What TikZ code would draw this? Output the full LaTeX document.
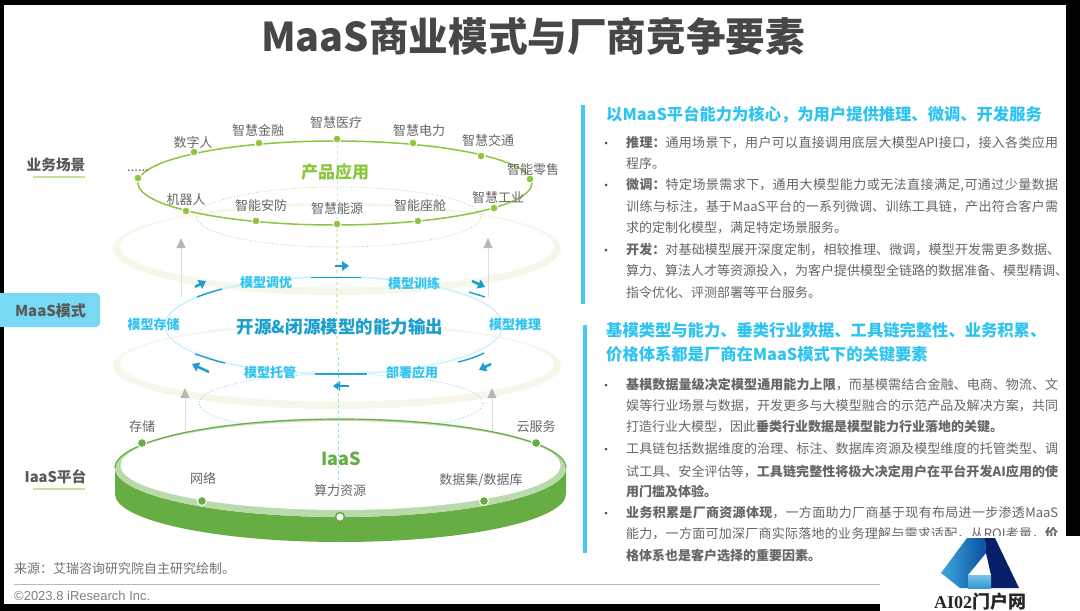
\documentclass[tikz,border=0pt]{standalone}
\usepackage{fontspec}
\setmainfont{Noto Sans CJK SC}
\newfontfamily\lib{Liberation Sans}
\newfontfamily\libs{Liberation Serif}[BoldFont={Liberation Serif Bold}]
\usetikzlibrary{arrows.meta}
\definecolor{leaf}{HTML}{8CC63F}
\definecolor{grass}{HTML}{66AD44}
\definecolor{sky}{HTML}{2FC4F0}
\definecolor{deep}{HTML}{1A9FD0}
\definecolor{body}{HTML}{666666}
\definecolor{palegreen}{HTML}{F5F8E8}
\definecolor{logoL}{HTML}{3FA9E0}
\definecolor{logoM}{HTML}{0A4F9E}
\definecolor{logoD}{HTML}{06206A}
\tikzset{
  x=1pt,y=-1pt,
  lab/.style={font=\fontsize{13}{13}\selectfont,text=body,inner sep=0pt},
  blab/.style={font=\fontsize{13}{13}\selectfont\bfseries,text=sky,inner sep=0pt},
  side/.style={font=\fontsize{14.7}{15}\selectfont\bfseries,text=black!65,inner sep=0pt},
  bodyline/.style={anchor=west,font=\fontsize{13}{13}\selectfont,text=body,inner sep=0pt},
  headline/.style={anchor=west,font=\fontsize{16.3}{16.3}\selectfont\bfseries,text=sky,inner sep=0pt},
  bul/.style={circle,fill=black!70,inner sep=0pt,minimum size=3pt},
  gdot/.style={circle,fill=leaf,draw=white,line width=1pt,inner sep=0pt,minimum size=8pt},
  idot/.style={circle,fill=grass,draw=white,line width=1pt,inner sep=0pt,minimum size=9pt},
  seg/.style={draw=deep,line width=1.4pt},
  flow/.style={draw=deep,line width=2.5pt,-{Triangle[length=7pt,width=9.5pt]}},
  up/.style={draw=black!13,line width=1pt,-{Triangle[length=10pt,width=9pt,color=black!28]}},
  rule/.style={draw=leaf!50,line width=1.2pt},
}
\newcommand\jl[3]{\node[bodyline] at (626,#1) {\parbox{#2pt}{\XeTeXlinebreaklocale "zh"\XeTeXlinebreakskip=0pt plus 1pt minus .2pt\relax\parfillskip=0pt\relax #3\par}};}
\begin{document}
\begin{tikzpicture}
\useasboundingbox (0,0) rectangle (1080,611);
\fill[white] (0,0) rectangle (1080,611);
% title
\node[inner sep=0pt,font=\fontsize{39.6}{39.6}\selectfont\bfseries,text=black!72] (title) at (533,36) {MaaS商业模式与厂商竞争要素};
% pale rings
\fill[palegreen] (337,249) ellipse (224 and 46);
\fill[white] (337,246.5) ellipse (217 and 41);
\fill[palegreen] (337,366) ellipse (224 and 43);
\fill[white] (337,363.5) ellipse (217 and 38);
% centre line
\draw[sky!30,dashed,line width=1pt] (337,145) -- (337,228);
\draw[leaf!30,dashed,line width=1.5pt] (337,228) -- (337,355);
% top ring
\draw[leaf,line width=1.5pt] (335,183) ellipse (197 and 42);
\draw[leaf!70,dotted,line width=.8pt] (338.5,217) ellipse (142 and 30);
% grey arrows
\coordinate (ua1) at (181,297); \coordinate (ua2) at (181,238);
\coordinate (ub1) at (488,297); \coordinate (ub2) at (488,238);
\coordinate (la1) at (185,443); \coordinate (la2) at (185,388);
\coordinate (lb1) at (492,443); \coordinate (lb2) at (492,388);
\draw[up] (ua1)--(ua2); \draw[up] (ub1)--(ub2); \draw[up] (la1)--(la2); \draw[up] (lb1)--(lb2);
% MaaS ring
\draw[sky!25,line width=1.3pt] (334,325.5) ellipse (169 and 48.5);
\draw[sky!30,dotted,line width=.7pt] (334,324) ellipse (166 and 48);
\draw[seg] (197,297) .. controls (205,294) and (214,291) .. (222,289);
\draw[seg] (311,277.5) -- (361,277.5);
\draw[seg] (469,292) -- (485,297);
\draw[seg] (195,354) .. controls (205,357) and (215,361) .. (225,363);
\draw[seg] (458,362) .. controls (467,360) and (476,357) .. (484,353);
\draw[seg] (315,374) -- (367,374);
\draw[flow] (335,266) -- (349,266);
\draw[flow] (195,287) -- (206,281);
\draw[flow] (472,281) -- (485,287);
\draw[flow] (491,364) -- (479,370);
\draw[flow] (349,386) -- (333,386);
\draw[flow] (209,372) -- (192,364);
\draw[sky!70,dotted,line width=.8pt] (341,403) ellipse (142 and 29);
% IaaS disc
\fill[grass] (115,468) -- (115,494) arc[start angle=180,end angle=0,x radius=225.5,y radius=48] -- (566,468) arc[start angle=0,end angle=180,x radius=225.5,y radius=49] -- cycle;
\fill[grass!45] (340.5,468) ellipse (225.5 and 49);
\fill[white] (340.5,465.5) ellipse (220 and 44.5);
\draw[grass,line width=1.2pt] (115,468) arc[start angle=180,end angle=360,x radius=225.5,y radius=49];
\draw[sky!60,dashed,line width=.8pt] (338.5,357) -- (338.5,488);
% dots
\foreach \n/\x/\y in {d1/138/178,d2/194/152,d3/259/143,d4/337/139,d5/413/143,d6/481/156,d7/530/179,d8/494/208,d9/418/221,d10/337/224,d11/256/221,d12/186/211}
  \node[gdot] (\n) at (\x,\y) {};
\foreach \n/\x/\y in {i1/142/443,i2/536/443,i3/202/501,i4/484/501}
  \node[idot] (\n) at (\x,\y) {};
\node[circle,fill=white,draw=grass,line width=1.6pt,inner sep=0pt,minimum size=9pt] (i5) at (340,517) {};
% scene labels
\node[lab] (t0) at (138,171) {......};
\node[lab] (t1) at (193,143) {数字人};
\node[lab] (t2) at (258,130) {智慧金融};
\node[lab] (t3) at (336,123) {智慧医疗};
\node[lab] (t4) at (419,131) {智慧电力};
\node[lab] (t5) at (488,141) {智慧交通};
\node[lab] (t6) at (533,170) {智能零售};
\node[lab] (t7) at (498,198) {智慧工业};
\node[lab] (t8) at (420,206) {智能座舱};
\node[lab] (t9) at (337,209) {智慧能源};
\node[lab] (t10) at (261,206) {智能安防};
\node[lab] (t11) at (186,200) {机器人};
\node[inner sep=0pt,font=\fontsize{17}{17}\selectfont\bfseries,text=leaf] (prod) at (335,172) {产品应用};
% MaaS labels
\node[blab] (m1) at (266,283) {模型调优};
\node[blab] (m2) at (414,283) {模型训练};
\node[blab] (m3) at (153.5,325) {模型存储};
\node[blab] (m4) at (515,325) {模型推理};
\node[blab] (m5) at (270,373) {模型托管};
\node[blab] (m6) at (412,373) {部署应用};
\node[inner sep=0pt,font=\fontsize{17.5}{17.5}\selectfont\bfseries,text=deep] (mc) at (340,327) {开源\&闭源模型的能力输出};
% IaaS labels
\node[lab] (s1) at (142,427) {存储};
\node[lab] (s2) at (536,427) {云服务};
\node[lab] (s3) at (203,478) {网络};
\node[lab] (s4) at (481,480) {数据集/数据库};
\node[lab] (s5) at (340,491) {算力资源};
\node[inner sep=0pt,font=\fontsize{18}{18}\selectfont\bfseries,text=grass] (iaas) at (341,459) {IaaS};
% side labels
\node[side] (sa) at (56,165) {业务场景};
\draw[rule] (33,177) -- (85,177);
\node[side] (sb) at (55.5,477) {IaaS平台};
\draw[rule] (33,489) -- (85,489);
\draw[rounded corners=4pt,fill=sky!65,draw=none] (-6,293) rectangle (100,327);
\node[inner sep=0pt,font=\fontsize{15}{15}\selectfont\bfseries,text=black!65] (sm) at (50.5,311) {MaaS模式};
% footer
\node[anchor=west,inner sep=0pt,font=\fontsize{13}{13}\selectfont,text=black!55] (src) at (14,569) {来源：艾瑞咨询研究院自主研究绘制。};
\draw[black!28,line width=1pt] (14,584) -- (880,584);
\node[anchor=west,inner sep=0pt,font=\lib\fontsize{13}{13}\selectfont,text=black!50] (cp) at (14,596) {©2023.8 iResearch Inc.};
% right bars
\fill[sky!90] (581,105) rectangle (584.5,304);
\fill[sky!90] (583,325) rectangle (587,553);
% right upper
\node[headline] at (606,115) {以MaaS平台能力为核心，为用户提供推理、微调、开发服务};
\foreach \y in {143,185,250} \node[bul] at (606,\y) {};
\jl{143}{432}{\textbf{推理：}通用场景下，用户可以直接调用底层大模型API接口，接入各类应用}
\node[bodyline] at (626,164) {程序。};
\jl{185}{432}{\textbf{微调：}特定场景需求下，通用大模型能力或无法直接满足,可通过少量数据}
\jl{207}{432}{训练与标注，基于MaaS平台的一系列微调、训练工具链，产出符合客户需}
\node[bodyline] at (626,228) {求的定制化模型，满足特定场景服务。};
\jl{250}{434}{\textbf{开发：}对基础模型展开深度定制，相较推理、微调，模型开发需更多数据、}
\jl{271}{442}{算力、算法人才等资源投入，为客户提供模型全链路的数据准备、模型精调、}
\node[bodyline] at (626,293) {指令优化、评测部署等平台服务。};
% right lower
\node[headline] at (606,330) {基模类型与能力、垂类行业数据、工具链完整性、业务积累、};
\node[headline] at (606,354) {价格体系都是厂商在MaaS模式下的关键要素};
\foreach \y in {385,449,513} \node[bul] at (606,\y) {};
\jl{385}{432}{\textbf{基模数据量级决定模型通用能力上限}，而基模需结合金融、电商、物流、文}
\jl{406}{432}{娱等行业场景与数据，开发更多与大模型融合的示范产品及解决方案，共同}
\node[bodyline] at (626,427) {打造行业大模型，因此\textbf{垂类行业数据是模型能力行业落地的关键。}};
\jl{449}{432}{工具链包括数据维度的治理、标注、数据库资源及模型维度的托管类型、调}
\jl{471}{432}{试工具、安全评估等，\textbf{工具链完整性将极大决定用户在平台开发AI应用的使}}
\node[bodyline] at (626,492) {\textbf{用门槛及体验。}};
\jl{513}{432}{\textbf{业务积累是厂商资源体现}，一方面助力厂商基于现有布局进一步渗透MaaS}
\jl{534}{432}{能力，一方面可加深厂商实际落地的业务理解与需求适配，从ROI考量，\textbf{价}}
\node[bodyline] at (626,556) {\textbf{格体系也是客户选择的重要因素。}};
% black edges
\fill[black] (0,0) rectangle (4,293);
\fill[black] (0,327) rectangle (4,611);
\fill[black] (0,0) rectangle (1080,5);
\fill[black] (1066,0) rectangle (1080,536);
\fill[black] (0,604) rectangle (880,611);
% logo area
\fill[white] (880,536) rectangle (1080,611);
\shade[left color=logoL,right color=logoM] (941,573) -- (967,538) -- (985,538) -- (986,553) -- (968,575) -- (968,588) -- (960,588) -- cycle;
\fill[logoD] (985,538) -- (995,538) -- (1019,588) -- (991,588) -- (991,575) -- (986,553) -- cycle;
\shade[top color=logoL!70,bottom color=logoL!80!logoM] (968,575) rectangle (991,588);
\node[inner sep=0pt,text=black!85,font=\fontsize{18}{18}\selectfont\bfseries] (lg) at (980,602) {{\libs AI02}门户网};
\end{tikzpicture}
\end{document}
